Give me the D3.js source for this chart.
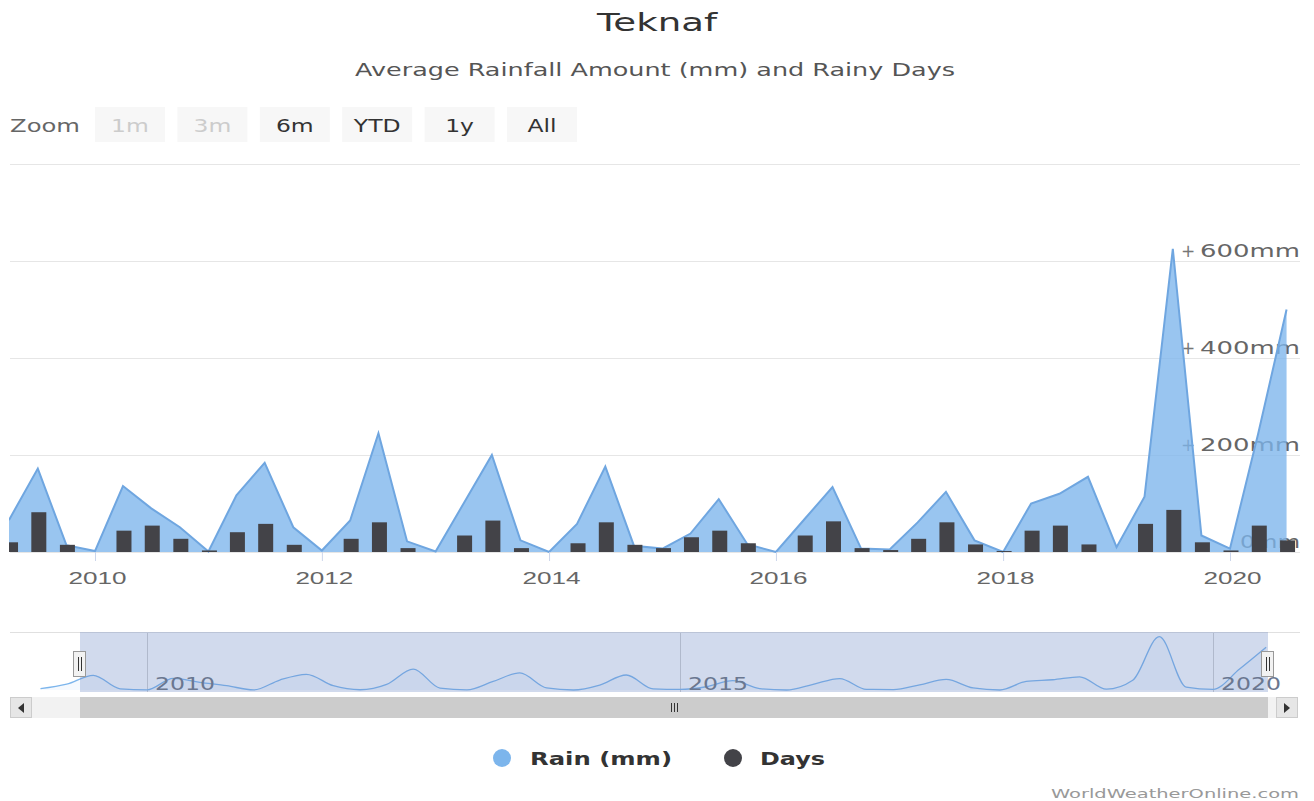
<!DOCTYPE html>
<html><head><meta charset="utf-8">
<script src="https://cdn.jsdelivr.net/npm/d3@7"></script>
<style>html,body{margin:0;padding:0;background:#fff;} svg{display:block;font-family:"DejaVu Sans",Verdana,sans-serif;}</style>
</head><body><svg id="chart" width="1314" height="801"></svg>
<script>
// ---- data (quarterly grouped) ----
const quarters = ["2009-01","2009-04","2009-07","2009-10",
  "2010-01","2010-04","2010-07","2010-10",
  "2011-01","2011-04","2011-07","2011-10",
  "2012-01","2012-04","2012-07","2012-10",
  "2013-01","2013-04","2013-07","2013-10",
  "2014-01","2014-04","2014-07","2014-10",
  "2015-01","2015-04","2015-07","2015-10",
  "2016-01","2016-04","2016-07","2016-10",
  "2017-01","2017-04","2017-07","2017-10",
  "2018-01","2018-04","2018-07","2018-10",
  "2019-01","2019-04","2019-07","2019-10",
  "2020-01","2020-04","2020-07"];
const rainMm = [15, 68, 172, 14,
  2, 136, 90, 51,
  1, 117, 184, 51,
  3, 65, 245, 22,
  1, 100, 200, 24,
  0, 58, 176, 13,
  7, 38, 109, 16,
  0, 67, 134, 7,
  5, 61, 124, 24,
  0, 100, 120, 155,
  10, 114, 625, 34,
  7, 245, 500];
const rainyDays = [2, 5, 20.5, 3.7,
  0, 11, 13.6, 6.8,
  0.8, 10.2, 14.5, 3.7,
  0, 6.8, 15.3, 2,
  0, 8.5, 16.2, 2,
  0, 4.5, 15.3, 3.7,
  2, 7.6, 11, 4.5,
  0, 8.5, 15.8, 2,
  1, 6.8, 15.3, 3.9,
  0.5, 11, 13.6, 3.9,
  0, 14.5, 21.7, 5,
  0.8, 13.6, 6];
const rainTicks = [0, 200, 400, 600, 800];
const rainTickLabels = ["0mm", "200mm", "400mm", "600mm", ""];
const yearTicks = ["2010","2012","2014","2016","2018","2020"];
const navYearTicks = ["2010","2015","2020"];
const zoomButtons = ["1m","3m","6m","YTD","1y","All"];
const zoomDisabled = ["1m","3m"];
const legendItems = ["Rain (mm)", "Days"];
const titleText = "Teknaf";
const subtitleText = "Average Rainfall Amount (mm) and Rainy Days";
const creditText = "WorldWeatherOnline.com";

// ---- setup ----
const parse = d3.timeParse("%Y-%m");
const data = quarters.map((q, i) => ({date: parse(q), rain: rainMm[i], days: rainyDays[i]}));
const svg = d3.select("#chart");
const BLUE = "#7cb5ec", DARK = "#434348";

function txt(g, x, y, s, o) {
  const t = g.append("text").attr("x", x).attr("y", y).text(s)
    .attr("font-size", o.size || 16)
    .attr("fill", o.fill || "#333")
    .attr("font-weight", o.weight || "normal")
    .attr("text-anchor", o.anchor || "start");
  const L = t.node().getComputedTextLength();
  const w = o.width || L * (o.factor || 1.33);
  if (s.length) t.attr("textLength", w).attr("lengthAdjust", "spacingAndGlyphs");
  return t;
}

// titles
txt(svg, 657, 31, titleText, {size: 25, fill: "#333", anchor: "middle", width: 120});
txt(svg, 655, 76, subtitleText, {size: 17, fill: "#555", anchor: "middle", width: 600});

// zoom buttons
txt(svg, 10, 132, "Zoom", {size: 17, fill: "#666", width: 70});
const btnX = d3.scaleBand().domain(zoomButtons).range([95, 577]).paddingInner(0.15);
const btn = svg.append("g").selectAll("g").data(zoomButtons).join("g");
btn.append("rect").attr("x", d => btnX(d)).attr("y", 107).attr("width", btnX.bandwidth()).attr("height", 35)
  .attr("fill", "#f7f7f7");
btn.each(function(d) {
  txt(d3.select(this), btnX(d) + btnX.bandwidth() / 2, 132, d,
    {size: 17, anchor: "middle", fill: zoomDisabled.includes(d) ? "#cccccc" : "#333", factor: 1.38});
});

// ---- main plot ----
const x = d3.scaleTime().domain([parse("2010-01"), parse("2020-01")]).range([95, 1230]);
const yR = d3.scaleLinear().domain([0, 800]).range([552, 164]);
const yD = d3.scaleLinear().domain([0, 200]).range([552, 164]);

svg.append("clipPath").attr("id", "plotClip").append("rect")
  .attr("x", 9).attr("y", 150).attr("width", 1290).attr("height", 403);

// gridlines
const grid = svg.append("g").attr("transform", "translate(10,0)")
  .call(d3.axisRight(yR).tickValues(rainTicks).tickSize(1290).tickFormat(""));
grid.select(".domain").remove();
grid.selectAll("line").attr("stroke", "#e6e6e6").attr("stroke-width", 1);

// y labels (under series)
const ylab = svg.append("g");
rainTicks.forEach((v, i) => {
  if (!rainTickLabels[i]) return;
  const w = rainTickLabels[i].length === 3 ? 60 : 100;
  txt(ylab, 1300, yR(v) - 4, rainTickLabels[i], {size: 17, fill: "#666", anchor: "end", width: w});
  if (v > 0) txt(ylab, 1188, yR(v) - 4, "+", {size: 17, fill: "#777", anchor: "middle", factor: 1});
});

const plot = svg.append("g").attr("clip-path", "url(#plotClip)");
const area = d3.area().x(d => x(d.date)).y0(yR(0)).y1(d => yR(d.rain));
const line = d3.line().x(d => x(d.date)).y(d => yR(d.rain));
plot.append("path").datum(data).attr("d", area).attr("fill", BLUE).attr("fill-opacity", 0.78);
plot.append("path").datum(data).attr("d", line).attr("fill", "none").attr("stroke", "#6fa6e0").attr("stroke-width", 2);
plot.append("g").selectAll("rect").data(data.filter(d => d.days > 0)).join("rect")
  .attr("x", d => x(d.date) + 1 - 7.5).attr("width", 15)
  .attr("y", d => yD(d.days)).attr("height", d => yD(0) - yD(d.days))
  .attr("fill", DARK);

// x axis
const xa = svg.append("g").attr("transform", "translate(0,552)")
  .call(d3.axisBottom(x).tickValues(yearTicks.map(y => parse(y + "-01"))).tickSize(9).tickFormat(d3.timeFormat("%Y")));
xa.select(".domain").remove();
xa.selectAll("line").attr("stroke", "#ccd6eb");
xa.selectAll("text").remove();
xa.selectAll(".tick").each(function(d) {
  txt(d3.select(this), 2, 32, d3.timeFormat("%Y")(d), {size: 17, fill: "#666", anchor: "middle", width: 58});
});

// ---- navigator ----
const xN = d3.scaleTime().domain([parse("2010-01"), parse("2020-01")]).range([147, 1213]);
const yN = d3.scaleLinear().domain([0, 680]).range([690, 632]);
const nav = svg.append("g");
nav.append("line").attr("x1", 10).attr("x2", 1300).attr("y1", 632.5).attr("y2", 632.5).attr("stroke", "#e0e0e0");
navYearTicks.forEach(y => {
  const xx = Math.round(xN(parse(y + "-01"))) + 0.5;
  nav.append("line").attr("x1", xx).attr("x2", xx).attr("y1", 633).attr("y2", 692).attr("stroke", "#d0d0d0");
});
nav.append("clipPath").attr("id", "navClip").append("rect").attr("x", 10).attr("y", 632).attr("width", 1288).attr("height", 60);
const navG = nav.append("g").attr("clip-path", "url(#navClip)");
navG.append("path").datum(data)
  .attr("d", d3.area().x(d => xN(d.date)).y0(yN(0)).y1(d => yN(d.rain)).curve(d3.curveMonotoneX))
  .attr("fill", BLUE).attr("fill-opacity", 0.08);
navG.append("path").datum(data)
  .attr("d", d3.line().x(d => xN(d.date)).y(d => yN(d.rain)).curve(d3.curveMonotoneX))
  .attr("fill", "none").attr("stroke", BLUE).attr("stroke-width", 1.3);
const hL = 80, hR = 1268;
nav.append("rect").attr("x", hL).attr("y", 632).attr("width", hR - hL).attr("height", 60)
  .attr("fill", "rgba(102,133,194,0.3)");
navYearTicks.forEach(y => {
  txt(nav, xN(parse(y + "-01")) + 8, 690, y, {size: 17, fill: "#6a7790", width: 60});
});
[hL, hR].forEach(hx => {
  nav.append("rect").attr("x", hx - 6.5).attr("y", 651.5).attr("width", 12).attr("height", 25)
    .attr("fill", "#f2f2f2").attr("stroke", "#999");
  [-1.5, 1.5].forEach(o => nav.append("line").attr("x1", hx + o).attr("x2", hx + o)
    .attr("y1", 657).attr("y2", 671).attr("stroke", "#333").attr("stroke-width", 1));
});

// scrollbar
const sb = svg.append("g");
sb.append("rect").attr("x", 10).attr("y", 697).attr("width", 1288).attr("height", 21).attr("fill", "#f2f2f2");
sb.append("rect").attr("x", hL).attr("y", 697).attr("width", hR - hL).attr("height", 21).attr("fill", "#cccccc");
[[10, "M24,703 L24,713 L18,708 Z"], [1276, "M1284,703 L1284,713 L1290,708 Z"]].forEach(([bx, p]) => {
  sb.append("rect").attr("x", bx + 0.5).attr("y", 697.5).attr("width", 21).attr("height", 20)
    .attr("fill", "#e6e6e6").attr("stroke", "#cccccc");
  sb.append("path").attr("d", p).attr("fill", "#333");
});
[-3, 0, 3].forEach(o => sb.append("line").attr("x1", 674.5 + o).attr("x2", 674.5 + o)
  .attr("y1", 703).attr("y2", 712).attr("stroke", "#333"));

// legend
const lg = svg.append("g");
lg.append("circle").attr("cx", 502).attr("cy", 758).attr("r", 9).attr("fill", BLUE);
txt(lg, 530, 765, legendItems[0], {size: 18, weight: "bold", fill: "#333", width: 142});
lg.append("circle").attr("cx", 733).attr("cy", 758).attr("r", 9).attr("fill", DARK);
txt(lg, 760, 765, legendItems[1], {size: 18, weight: "bold", fill: "#333", width: 65});

// credits
txt(svg, 1299, 798, creditText, {size: 13, fill: "#999", anchor: "end", width: 248});
</script></body></html>
